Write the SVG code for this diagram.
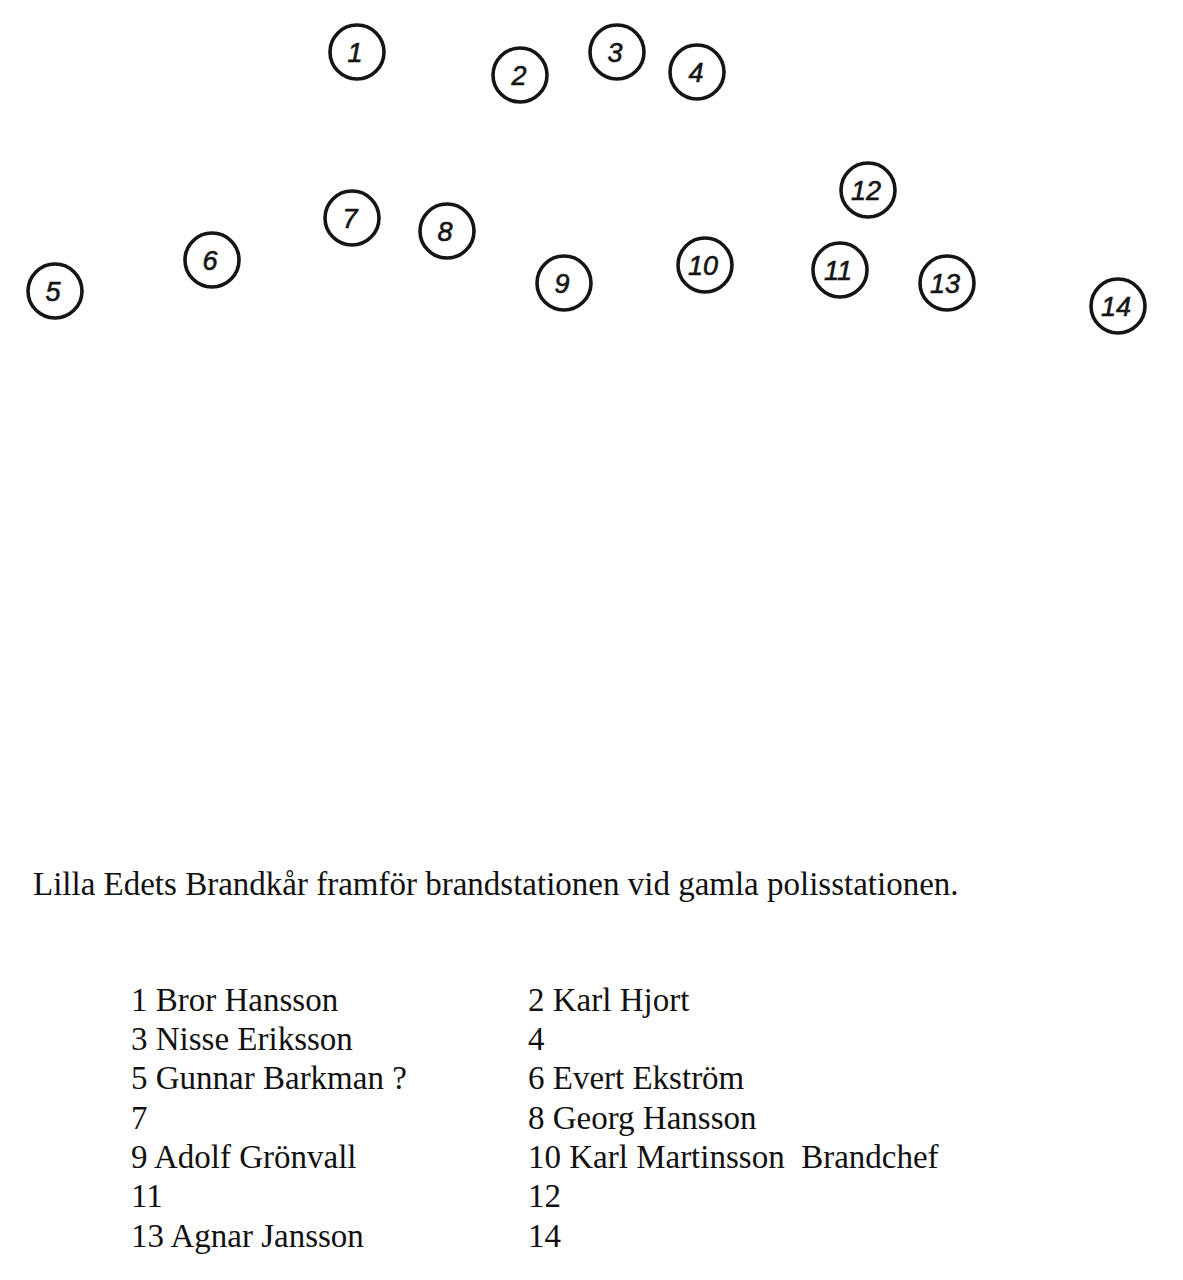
<svg xmlns="http://www.w3.org/2000/svg" width="1183" height="1280" viewBox="0 0 1183 1280">
<style>
.c{fill:none;stroke:#151515;stroke-width:3.6}
.n{font-family:"Liberation Sans",Arial,sans-serif;font-style:italic;font-size:27px;fill:#151515;text-anchor:middle;stroke:#151515;stroke-width:0.6}
.t{font-family:"Liberation Serif","Times New Roman",serif;font-size:33px;fill:#111}
</style>
<rect width="1183" height="1280" fill="#fff"/>
<g id="markers">
<g id="m1"><circle class="c" cx="357" cy="52" r="27"/><text class="n" x="355" y="62">1</text></g>
<g id="m2"><circle class="c" cx="520" cy="75" r="27"/><text class="n" x="519" y="85">2</text></g>
<g id="m3"><circle class="c" cx="617" cy="52" r="27"/><text class="n" x="615" y="62">3</text></g>
<g id="m4"><circle class="c" cx="697" cy="72" r="27"/><text class="n" x="696" y="82">4</text></g>
<g id="m5"><circle class="c" cx="55" cy="291" r="27"/><text class="n" x="53" y="301">5</text></g>
<g id="m6"><circle class="c" cx="212" cy="260" r="27"/><text class="n" x="210" y="270">6</text></g>
<g id="m7"><circle class="c" cx="352" cy="218" r="27"/><text class="n" x="350" y="228">7</text></g>
<g id="m8"><circle class="c" cx="447" cy="231" r="27"/><text class="n" x="445" y="241">8</text></g>
<g id="m9"><circle class="c" cx="564" cy="283" r="27"/><text class="n" x="562" y="293">9</text></g>
<g id="m10"><circle class="c" cx="705" cy="265" r="27"/><text class="n" x="703" y="275">10</text></g>
<g id="m11"><circle class="c" cx="840" cy="270" r="27"/><text class="n" x="838" y="280">11</text></g>
<g id="m12"><circle class="c" cx="868" cy="190" r="27"/><text class="n" x="866" y="200">12</text></g>
<g id="m13"><circle class="c" cx="947" cy="283" r="27"/><text class="n" x="945" y="293">13</text></g>
<g id="m14"><circle class="c" cx="1118" cy="306" r="27"/><text class="n" x="1116" y="316">14</text></g>
</g>
<g id="caption">
<text class="t" x="33" y="895">Lilla Edets Brandkår framför brandstationen vid gamla polisstationen.</text>
</g>
<g id="legend">
<text class="t" x="131" y="1011">1 Bror Hansson</text>
<text class="t" x="528" y="1011">2 Karl Hjort</text>
<text class="t" x="131" y="1050">3 Nisse Eriksson</text>
<text class="t" x="528" y="1050">4</text>
<text class="t" x="131" y="1089">5 Gunnar Barkman ?</text>
<text class="t" x="528" y="1089">6 Evert Ekström</text>
<text class="t" x="131" y="1129">7</text>
<text class="t" x="528" y="1129">8 Georg Hansson</text>
<text class="t" x="131" y="1168">9 Adolf Grönvall</text>
<text class="t" x="528" y="1168" xml:space="preserve">10 Karl Martinsson  Brandchef</text>
<text class="t" x="131" y="1207">11</text>
<text class="t" x="528" y="1207">12</text>
<text class="t" x="131" y="1247">13 Agnar Jansson</text>
<text class="t" x="528" y="1247">14</text>
</g>
</svg>
